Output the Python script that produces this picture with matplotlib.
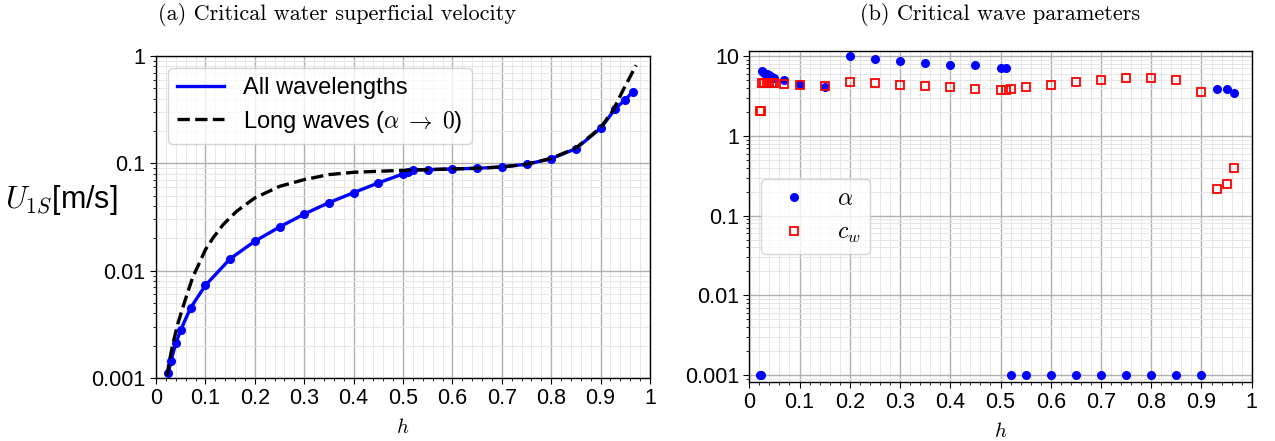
import matplotlib
matplotlib.use("Agg")
import matplotlib.pyplot as plt
from matplotlib.ticker import FixedLocator, MultipleLocator, LogLocator, NullFormatter

plt.rcParams['font.family'] = ['Liberation Sans', 'DejaVu Sans']
plt.rcParams['mathtext.fontset'] = 'cm'

# ---------------- data (a) ----------------
h_all = [0.025, 0.03, 0.04, 0.05, 0.07, 0.1, 0.15, 0.2, 0.25, 0.3, 0.35, 0.4, 0.45,
         0.5, 0.51, 0.52, 0.55, 0.6, 0.65, 0.7, 0.75, 0.8, 0.85, 0.9, 0.93, 0.95, 0.965]
U_all = [0.00111, 0.00143, 0.0021, 0.0028, 0.0045, 0.0073, 0.0129, 0.0188, 0.0255,
         0.0337, 0.043, 0.0533, 0.0657, 0.0796, 0.083, 0.0873, 0.0873, 0.0887, 0.0899,
         0.0925, 0.098, 0.1106, 0.137, 0.212, 0.324, 0.392, 0.463]

h_long = [0.022, 0.0277, 0.0345, 0.0446, 0.055, 0.0648, 0.075, 0.0885, 0.1, 0.1155,
          0.136, 0.163, 0.2, 0.25, 0.3, 0.35, 0.4, 0.45, 0.5, 0.55, 0.6, 0.65, 0.7,
          0.75, 0.8, 0.85, 0.9, 0.925, 0.946, 0.972]
U_long = [0.00104, 0.00148, 0.00212, 0.00325, 0.00465, 0.00641, 0.00885, 0.01196,
          0.0157, 0.0202, 0.0269, 0.0357, 0.0476, 0.061, 0.0705, 0.0785, 0.0825,
          0.0843, 0.086, 0.0873, 0.0887, 0.09, 0.0925, 0.098, 0.111, 0.139, 0.215,
          0.31, 0.486, 0.82]

# ---------------- data (b) ----------------
h_par = [0.021, 0.023, 0.025, 0.03, 0.035, 0.04, 0.045, 0.05, 0.07, 0.1, 0.15, 0.2,
         0.25, 0.3, 0.35, 0.4, 0.45, 0.5, 0.51, 0.52, 0.55, 0.6, 0.65, 0.7, 0.75,
         0.8, 0.85, 0.9, 0.93, 0.95, 0.965]
alpha = [0.001, 0.001, 6.5, 6.2, 6.0, 5.8, 5.55, 5.35, 5.0, 4.5, 4.05, 10.0,
         9.1, 8.65, 8.1, 7.65, 7.65, 7.13, 7.13, 0.001, 0.001, 0.001, 0.001, 0.001,
         0.001, 0.001, 0.001, 0.001, 3.86, 3.86, 3.47]
c_w = [2.05, 2.05, 4.63, 4.63, 4.63, 4.63, 4.63, 4.63, 4.46, 4.4, 4.25, 4.68,
       4.54, 4.36, 4.25, 4.08, 3.9, 3.78, 3.78, 3.85, 4.05, 4.36, 4.72, 5.0, 5.3,
       5.3, 5.0, 3.57, 0.213, 0.25, 0.39]

x_ticks = [0, 0.1, 0.2, 0.3, 0.4, 0.5, 0.6, 0.7, 0.8, 0.9, 1.0]
x_ticklabels = ['0', '0.1', '0.2', '0.3', '0.4', '0.5', '0.6', '0.7', '0.8', '0.9', '1']
y_ticks_a = [0.001, 0.01, 0.1, 1]
y_ticklabels_a = ['0.001', '0.01', '0.1', '1']
y_ticks_b = [0.001, 0.01, 0.1, 1, 10]
y_ticklabels_b = ['0.001', '0.01', '0.1', '1', '10']

W, H = 1275, 441
fig = plt.figure(figsize=(W / 100, H / 100), dpi=100)

def px_axes(x0, y0, x1, y1):
    return fig.add_axes([x0 / W, 1 - y1 / H, (x1 - x0) / W, (y1 - y0) / H])

axa = px_axes(156, 56, 650, 378)
axb = px_axes(749.3, 51, 1251.7, 382)

def style(ax, yt, ytl):
    ax.set_yscale('log')
    ax.set_xlim(0, 1)
    ax.xaxis.set_major_locator(FixedLocator(x_ticks))
    ax.set_xticklabels(x_ticklabels)
    ax.xaxis.set_minor_locator(MultipleLocator(0.02))
    ax.yaxis.set_major_locator(FixedLocator(yt))
    ax.set_yticklabels(ytl)
    ax.yaxis.set_minor_locator(LogLocator(base=10, subs=range(2, 10), numticks=20))
    ax.yaxis.set_minor_formatter(NullFormatter())
    ax.grid(True, which='major', color='#b0b0b0', linewidth=1.0)
    ax.grid(True, which='minor', color='#e6e6e6', linewidth=0.7)
    ax.set_axisbelow(True)
    ax.tick_params(which='major', labelsize=15.5, length=4)
    ax.tick_params(which='minor', length=2.5)
    for s in ax.spines.values():
        s.set_linewidth(1.0)

# (a)
style(axa, y_ticks_a, y_ticklabels_a)
axa.set_ylim(0.001, 1)
axa.plot(h_all, U_all, '-', color='#0000ff', linewidth=2.4, label='All wavelengths')
axa.plot(h_all, U_all, 'o', color='#0000ff', markersize=5.5)
axa.plot(h_long, U_long, '--', color='black', linewidth=2.4,
         label=r'Long waves ($\alpha\;\to\;0$)')
axa.legend(loc='upper left', fontsize=17, borderaxespad=0.5, labelspacing=0.4)
axa.set_xlabel(r'$h$', fontsize=15, labelpad=6)
fig.text(5 / W, 1 - 200 / H, r'$U_{1S}$[m/s]', fontsize=22, ha='left', va='center')
fig.text(337 / W, 1 - 15 / H, '(a) Critical water superficial velocity',
         fontfamily='cmr10', fontsize=16, ha='center', va='center')

# (b)
style(axb, y_ticks_b, y_ticklabels_b)
axb.set_ylim(0.00082, 11.6)
axb.plot(h_par, alpha, 'o', color='#0000ff', markersize=5.5, linestyle='none',
         label=r'$\alpha$')
axb.plot(h_par, c_w, 's', markerfacecolor='none', markeredgecolor='#ff0000',
         markeredgewidth=1.3, markersize=5.5, linestyle='none', label=r'$c_w$')
axb.legend(loc='center left', fontsize=17)
axb.set_xlabel(r'$h$', fontsize=15, labelpad=6)
fig.text(1000 / W, 1 - 15 / H, '(b) Critical wave parameters',
         fontfamily='cmr10', fontsize=16, ha='center', va='center')

fig.savefig('out.png', dpi=100)
